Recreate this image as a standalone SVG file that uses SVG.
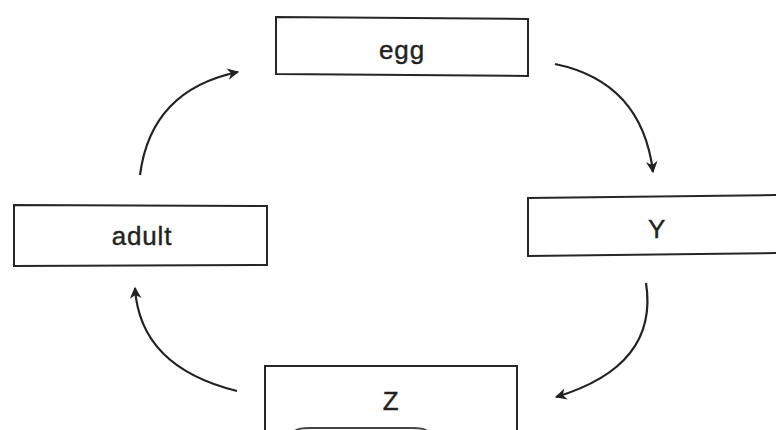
<svg xmlns="http://www.w3.org/2000/svg" width="776" height="430" viewBox="0 0 776 430">
<defs>
<style>
.box{fill:#fff;stroke:#262626;stroke-width:2}
.lbl{font-family:"Liberation Sans",Arial,sans-serif;font-size:26px;letter-spacing:0.8px;fill:#222;stroke:#222;stroke-width:0.4;text-anchor:middle}
.arr{fill:none;stroke:#222;stroke-width:2.2;marker-end:url(#ah)}
</style>
<marker id="ah" viewBox="0 0 12 12" refX="10" refY="6" markerWidth="14" markerHeight="14" markerUnits="userSpaceOnUse" orient="auto">
<path d="M1,1 L11,6 L1,11 L4,6 z" fill="#222"/>
</marker>
</defs>
<rect width="776" height="430" fill="#fff"/>
<g id="egg">
<path class="box" d="M276,17 L528,19 L528,76 L276,74 Z"/>
<text class="lbl" x="402" y="59">egg</text>
</g>
<g id="adult">
<path class="box" d="M14,205 L267,206 L267,265 L14,266 Z"/>
<text class="lbl" x="142" y="245">adult</text>
</g>
<g id="Y">
<path class="box" d="M528,198 L780,195 L780,253 L528,256 Z"/>
<text class="lbl" x="657" y="238">Y</text>
</g>
<g id="Z">
<path class="box" d="M265,366 L517,366 L517,440 L265,440 Z"/>
<text class="lbl" x="391" y="410">Z</text>
<path d="M294,432 Q296,428 310,428 L412,428 Q426,428 428,432" fill="none" stroke="#444" stroke-width="2"/>
</g>
<g id="connectors">
<path class="arr" d="M140,175 Q151,90 238,72"/>
<path class="arr" d="M555,64 Q642,82 653,172"/>
<path class="arr" d="M646,283 Q659,366 556,397"/>
<path class="arr" d="M237,391 Q140,367 135,288"/>
</g>
</svg>
